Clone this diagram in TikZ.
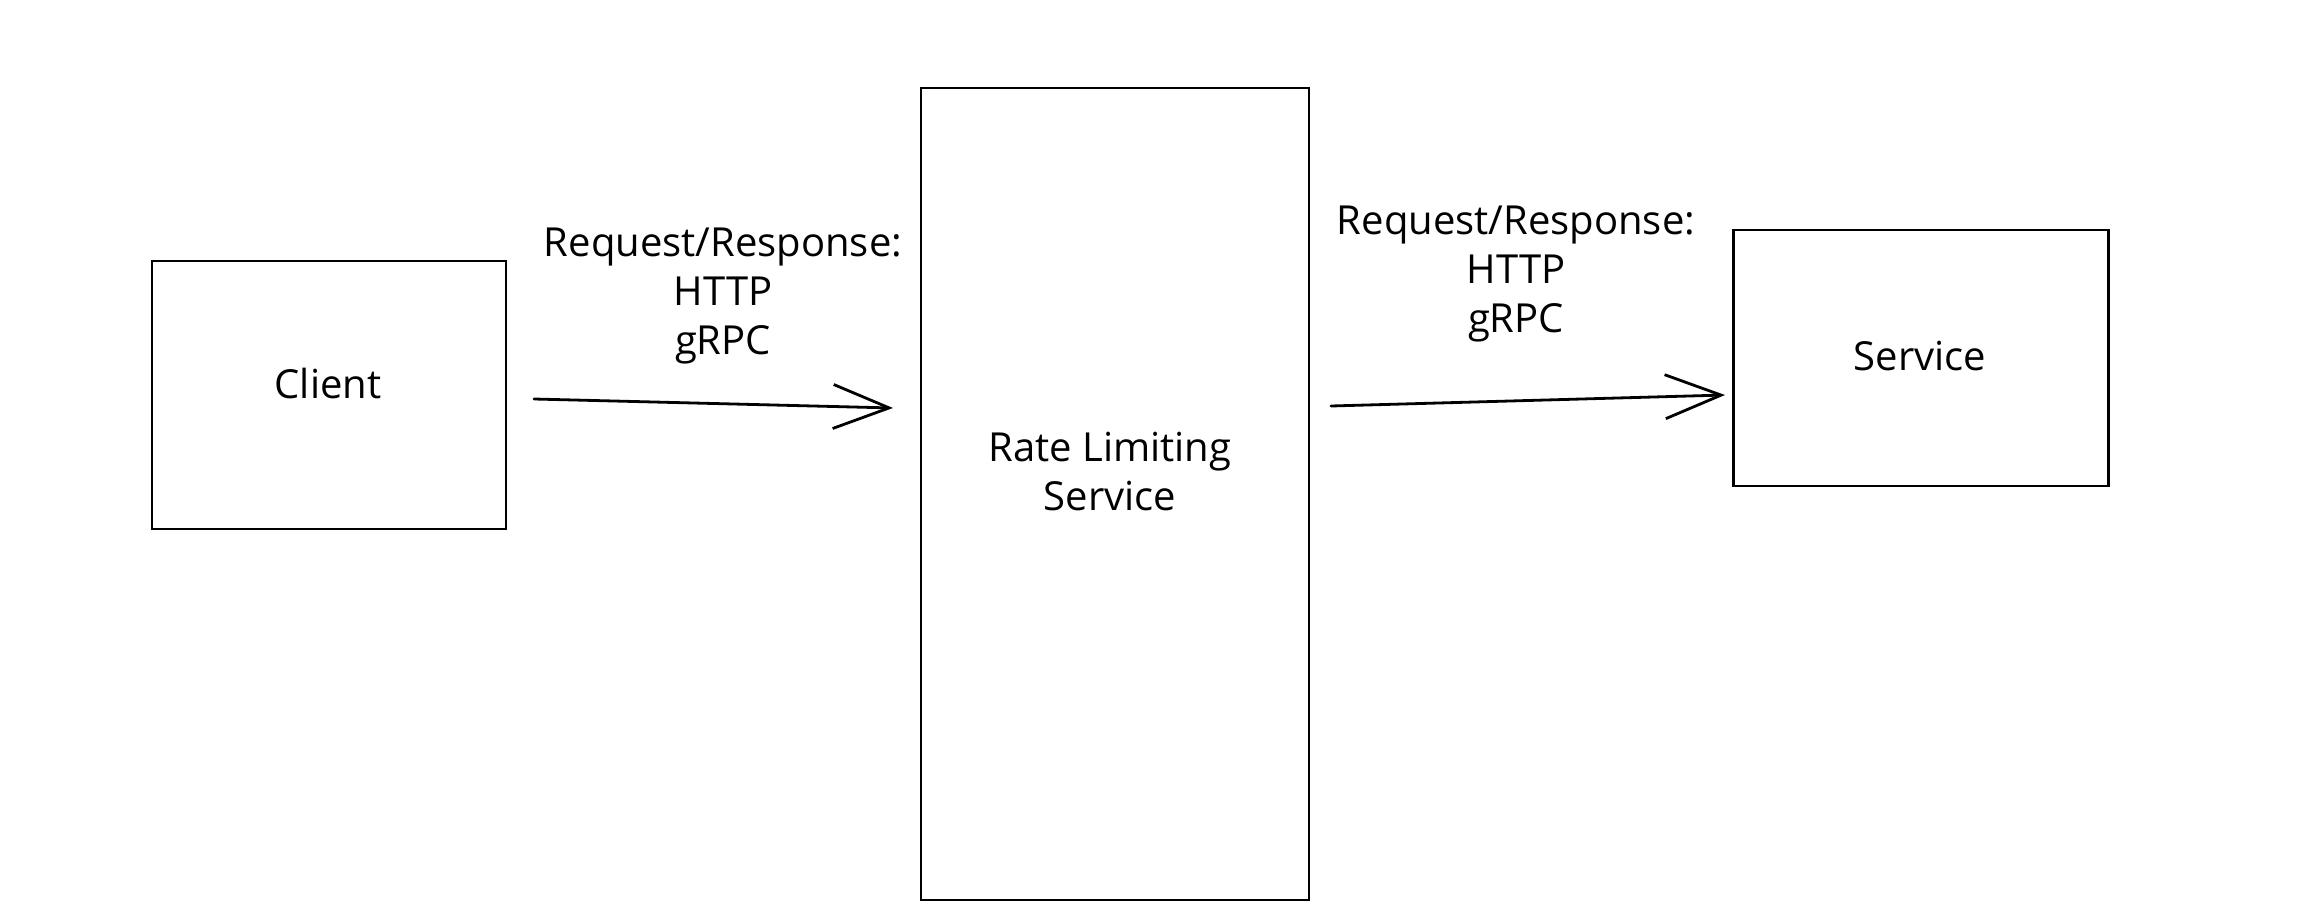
\documentclass[tikz,border=0pt]{standalone}
\usepackage{fontspec}
\setmainfont{Open Sans}
\usetikzlibrary{arrows.meta}
\tikzset{
  box/.style={draw=black, line width=2.8pt, fill=white, inner sep=0pt, align=center,
              font=\fontsize{40}{49}\selectfont},
  lbl/.style={align=center, font=\fontsize{40}{49}\selectfont, inner sep=0pt},
  conn/.style={draw=black, line width=2.8pt, line cap=round,
               -{Straight Barb[length=56pt,width=44pt,line width=2.8pt]}},
}
\begin{document}
\begin{tikzpicture}[x=1pt,y=-1pt]
\useasboundingbox[fill=white] (0,0) rectangle (2297,915);
% boxes
\node[box, minimum width=354pt, minimum height=268pt] (client) at (329,395) {};
\node[box, minimum width=388pt, minimum height=812pt] (rls) at (1115,494) {};
\node[box, minimum width=375pt, minimum height=256pt] (svc) at (1921,358) {};
% texts
\node[lbl] (clienttext) at (328,383) {Client};
\node[lbl] (rlstext) at (1110,472) {Rate Limiting\\Service};
\node[lbl] (svctext) at (1920,356) {Service};
% connectors
\coordinate (a1s) at (534,399);
\coordinate (a1e) at (893,408);
\coordinate (a2s) at (1331,406);
\coordinate (a2e) at (1725,395);
\draw[conn] (a1s) -- (a1e);
\draw[conn] (a2s) -- (a2e);
% connector labels
\node[lbl] (l1) at (723,296) {Request/Response:\\HTTP\\gRPC};
\node[lbl] (l2) at (1516,274) {Request/Response:\\HTTP\\gRPC};
\end{tikzpicture}
\end{document}
